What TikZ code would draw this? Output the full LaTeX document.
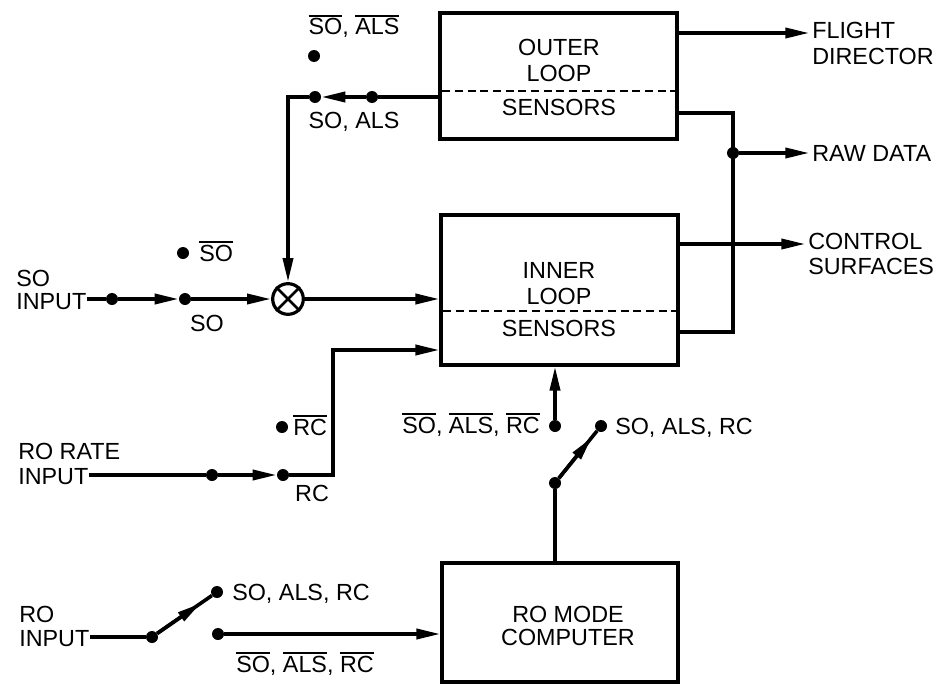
\documentclass[tikz,border=0pt]{standalone}
\usepackage{fontspec}
\setmainfont{Liberation Sans}
\usetikzlibrary{arrows.meta,calc}
\newcommand\ovl[1]{\leavevmode\vbox{\hrule height 1.3pt\kern1.6pt\hbox{#1}}}
\begin{document}
\begin{tikzpicture}[x=0.75pt,y=-0.75pt,
  line/.style={line width=2.7pt},
  arr/.style={line width=2.7pt, -{Triangle[length=18pt,width=7.5pt]}},
  box/.style={draw, line width=2.3pt, rectangle, inner sep=0pt},
  dot/.style={circle, fill, inner sep=0pt, minimum size=9pt},
  lbl/.style={font=\fontsize{17.5}{19}\selectfont, inner sep=0pt},
  sep/.style={line width=1.5pt, dash pattern=on 6pt off 3.5pt}]
\useasboundingbox (0,0) rectangle (941,685);

% boxes
\node[box, minimum width=177.75pt, minimum height=94.5pt] (outer) at (558.5,76) {};
\node[box, minimum width=177.75pt, minimum height=112.5pt] (inner) at (559.5,290) {};
\node[box, minimum width=177pt, minimum height=89.25pt] (mode) at (560,622.5) {};

\node[lbl, align=center] (outert) at (559,60.5) {OUTER\\LOOP};
\node[lbl] (outers) at (559,107) {SENSORS};
\node[lbl, align=center] (innert) at (559,283.5) {INNER\\LOOP};
\node[lbl] (inners) at (559,328) {SENSORS};
\node[lbl, align=center] (modet) at (568,626) {RO MODE\\[-2pt]COMPUTER};

\coordinate (yod) at (0,91);
\coordinate (yid) at (0,311);
\draw[sep] ([xshift=3pt]outer.west |- yod) -- ([xshift=-2pt]outer.east |- yod);
\draw[sep] ([xshift=3pt]inner.west |- yid) -- ([xshift=-2pt]inner.east |- yid);

% right labels
\node[lbl, align=left, anchor=west] (fdt) at (812,43.5) {FLIGHT\\DIRECTOR};
\node[lbl, anchor=west] (rawt) at (812,153) {RAW DATA};
\node[lbl, align=left, anchor=west] (cst) at (808,254) {CONTROL\\SURFACES};

% left input labels
\node[lbl, anchor=base west] (soa) at (16,286) {SO};
\node[lbl, anchor=base west] (soinput) at (16,309) {INPUT};
\node[lbl, anchor=base west] (rorate) at (18,459) {RO RATE};
\node[lbl, anchor=base west] (rrinput) at (18,484) {INPUT};
\node[lbl, anchor=base west] (roa) at (19,622) {RO};
\node[lbl, anchor=base west] (roinput) at (19,646) {INPUT};

% dots
\node[dot] (a1) at (372,97) {};
\node[dot] (a2) at (315,97) {};
\node[dot] (o1) at (314,56) {};
\node[dot] (s1) at (112,299) {};
\node[dot] (s2) at (185,299) {};
\node[dot] (s3) at (183,253) {};
\node[dot] (r1) at (212,475) {};
\node[dot] (r2) at (283,475) {};
\node[dot] (r3) at (282,427) {};
\node[dot] (b1) at (555,426) {};
\node[dot] (b2) at (601,426) {};
\node[dot] (bp) at (555,483) {};
\node[dot] (p) at (152,637) {};
\node[dot] (u) at (217,592) {};
\node[dot] (l) at (218,634) {};
\node[dot] (jd) at (733,153) {};

% summing junction
\node[draw, circle, line width=2.4pt, minimum size=23pt, inner sep=0pt] (sum) at (288,299) {};
\draw[line width=2pt] (sum.north west) -- (sum.south east) (sum.north east) -- (sum.south west);

% switch labels
\node[lbl, anchor=base] (l1) at (354,35) {\ovl{SO}, \ovl{ALS}};
\node[lbl, anchor=base] (l2) at (354,128) {SO, ALS};
\node[lbl, anchor=base west] (l3) at (199,261) {\ovl{SO}};
\node[lbl, anchor=base] (l4) at (207,331) {SO};
\node[lbl, anchor=base west] (l5) at (293,435) {\ovl{RC}};
\node[lbl, anchor=base] (l6) at (312,501) {RC};
\node[lbl, anchor=base east] (l7) at (540,433) {\ovl{SO}, \ovl{ALS}, \ovl{RC}};
\node[lbl, anchor=base west] (l8) at (615,434) {SO, ALS, RC};
\node[lbl, anchor=base west] (l9) at (232,600) {SO, ALS, RC};
\node[lbl, anchor=base west] (l10) at (236,672) {\ovl{SO}, \ovl{ALS}, \ovl{RC}};

% left connectors
\coordinate (k1) at (288,97);
\draw[line] (outer.west |- a1) -- (a1);
\draw[arr] (a1) -- (a2);
\draw[arr] (a2) -- (k1) -- (sum.north);
\draw[line] (soinput.east |- s1) -- (s1);
\draw[arr] (s1) -- (s2);
\draw[arr] (s2) -- (sum.west);
\draw[arr] (sum.east) -- (inner.west |- sum);
\coordinate (k2) at (333,475);
\coordinate (k3) at (333,350);
\draw[line] (rrinput.east |- r1) -- (r1);
\draw[arr] (r1) -- (r2);
\draw[arr] (r2) -- (k2) -- (k3) -- (inner.west |- k3);

% bottom switches
\draw[arr] (b1) -- (inner.south -| b1);
\draw[line] (mode.north -| bp) -- (bp);
\draw[line] (bp) -- (b2);
\draw[arr] (bp) -- ($(bp)!0.8!(b2)$);
\draw[line] (roinput.east |- p) -- (p);
\draw[line] (p) -- (u);
\draw[arr] (p) -- ($(p)!0.75!(u)$);
\draw[arr] (l) -- (mode.west |- l);

% right connectors
\coordinate (yfd) at (0,33);
\coordinate (ycs) at (0,244);
\coordinate (k4) at (733,113);
\coordinate (k5) at (733,332);
\draw[arr] (outer.east |- yfd) -- ([xshift=-2pt]fdt.west |- yfd);
\draw[line] (outer.east |- k4) -- (k4) -- (k5) -- (inner.east |- k5);
\draw[arr] (jd) -- ([xshift=-2pt]rawt.west |- jd);
\draw[arr] (inner.east |- ycs) -- ([xshift=-2pt]cst.west |- ycs);
\end{tikzpicture}
\end{document}
